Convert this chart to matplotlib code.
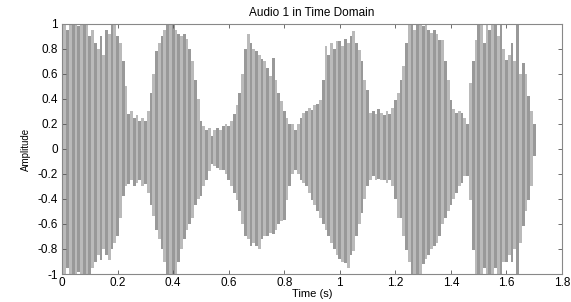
import numpy as np
import matplotlib.pyplot as plt

# 音频包络（每 0.01 s 读取一次的上/下峰值）
t_start = 0.0
t_step = 0.01

upper = [1, 1, 0.95, 1, 1, 1, 0.98, 1, 1, 1,
         0.9, 0.95, 0.85, 0.8, 0.9, 0.75, 0.95, 0.92, 1, 1,
         0.9, 0.85, 0.7, 0.5, 0.28, 0.3, 0.25, 0.27, 0.22, 0.25,
         0.22, 0.3, 0.45, 0.6, 0.78, 0.85, 0.9, 0.95, 1, 1,
         1, 0.95, 0.92, 0.9, 0.92, 0.88, 0.8, 0.7, 0.55, 0.4,
         0.22, 0.18, 0.15, 0.17, 0.1, 0.15, 0.17, 0.15, 0.18, 0.2,
         0.18, 0.22, 0.28, 0.35, 0.45, 0.6, 0.8, 0.92, 0.85, 0.8,
         0.78, 0.75, 0.72, 0.7, 0.65, 0.58, 0.73, 0.55, 0.45, 0.38,
         0.3, 0.25, 0.2, 0.2, 0.15, 0.2, 0.25, 0.29, 0.3, 0.33,
         0.31, 0.35, 0.36, 0.39, 0.55, 0.82, 0.75, 0.85, 0.8, 0.86,
         0.86, 0.82, 0.88, 0.85, 0.9, 0.94, 0.85, 0.79, 0.7, 0.55,
         0.47, 0.29, 0.3, 0.28, 0.32, 0.29, 0.27, 0.3, 0.28, 0.33,
         0.39, 0.45, 0.55, 0.66, 0.85, 1, 1, 0.95, 1, 1,
         0.98, 1, 0.95, 0.93, 0.95, 0.92, 0.87, 0.87, 0.7, 0.55,
         0.39, 0.32, 0.29, 0.3, 0.29, 0.25, 0.2, 0.53, 0.7, 0.87,
         1, 1, 0.85, 1, 0.95, 1, 1, 0.9, 1, 0.8,
         0.71, 0.75, 0.85, 0.7, 1, 0.6, 0.69, 0.6, 0.42, 0.3,
         0.2]

lower = [-1, -1, -0.95, -1, -1, -1, -0.98, -1, -1, -1,
         -1, -0.95, -0.9, -0.85, -0.89, -0.8, -0.85, -0.89, -0.8, -0.75,
         -0.7, -0.55, -0.38, -0.3, -0.28, -0.25, -0.3, -0.27, -0.25, -0.3,
         -0.28, -0.35, -0.45, -0.54, -0.65, -0.72, -0.8, -0.9, -1, -1,
         -1, -1, -0.9, -0.8, -0.72, -0.65, -0.6, -0.55, -0.45, -0.4,
         -0.38, -0.3, -0.25, -0.18, -0.12, -0.14, -0.15, -0.17, -0.17, -0.2,
         -0.25, -0.3, -0.35, -0.41, -0.5, -0.6, -0.7, -0.72, -0.78, -0.75,
         -0.78, -0.8, -0.72, -0.7, -0.7, -0.67, -0.68, -0.65, -0.6, -0.58,
         -0.57, -0.41, -0.3, -0.2, -0.17, -0.2, -0.25, -0.27, -0.3, -0.35,
         -0.41, -0.45, -0.5, -0.55, -0.6, -0.65, -0.7, -0.75, -0.8, -0.85,
         -0.88, -0.9, -0.91, -0.95, -0.85, -0.82, -0.7, -0.6, -0.51, -0.4,
         -0.3, -0.25, -0.22, -0.25, -0.24, -0.25, -0.25, -0.27, -0.25, -0.3,
         -0.4, -0.55, -0.55, -0.7, -0.81, -0.9, -1, -1, -1, -1,
         -0.92, -0.88, -0.85, -0.8, -0.78, -0.75, -0.7, -0.6, -0.55, -0.5,
         -0.45, -0.4, -0.35, -0.3, -0.27, -0.22, -0.22, -0.41, -0.81, -1,
         -1, -1, -0.95, -1, -1, -1, -0.95, -1, -1, -0.9,
         -0.9, -0.85, -0.9, -0.8, -1, -0.75, -0.62, -0.5, -0.41, -0.3,
         -0.06]

x_ticks = [0, 0.2, 0.4, 0.6, 0.8, 1, 1.2, 1.4, 1.6, 1.8]
x_tick_labels = ['0', '0.2', '0.4', '0.6', '0.8', '1', '1.2', '1.4', '1.6', '1.8']
y_ticks = [-1, -0.8, -0.6, -0.4, -0.2, 0, 0.2, 0.4, 0.6, 0.8, 1]
y_tick_labels = ['-1', '-0.8', '-0.6', '-0.4', '-0.2', '0', '0.2', '0.4', '0.6', '0.8', '1']

plt.rcParams['font.family'] = ['Liberation Sans', 'DejaVu Sans']

upper = np.array(upper)
lower = np.array(lower)
t = t_start + t_step * np.arange(len(upper))

fig = plt.figure(figsize=(5.71, 3.02), dpi=100)
ax = fig.add_axes([0.1086, 0.0927, 0.8757, 0.828])

# 交替灰度条纹
colors = ['#999999' if i % 2 == 0 else '#bababa' for i in range(len(t))]
ax.bar(t, upper - lower, bottom=lower, width=t_step, color=colors,
       linewidth=0, align='center')

ax.set_xlim(0, 1.8)
ax.set_ylim(-1, 1)
ax.set_xticks(x_ticks)
ax.set_xticklabels(x_tick_labels)
ax.set_yticks(y_ticks)
ax.set_yticklabels(y_tick_labels)
ax.tick_params(direction='in', top=True, right=True, labelsize=8.5,
               length=3, width=0.6, color='#555555')
ax.tick_params(axis='x', pad=2)
ax.tick_params(axis='y', pad=3)
for s in ax.spines.values():
    s.set_color('#888888')
    s.set_linewidth(0.8)

ax.set_title('Audio 1 in Time Domain', fontsize=8.5, pad=6)
ax.set_xlabel('Time (s)', fontsize=8, labelpad=0)
ax.set_ylabel('Amplitude', fontsize=7, labelpad=5)

fig.savefig('out.png', dpi=100)
